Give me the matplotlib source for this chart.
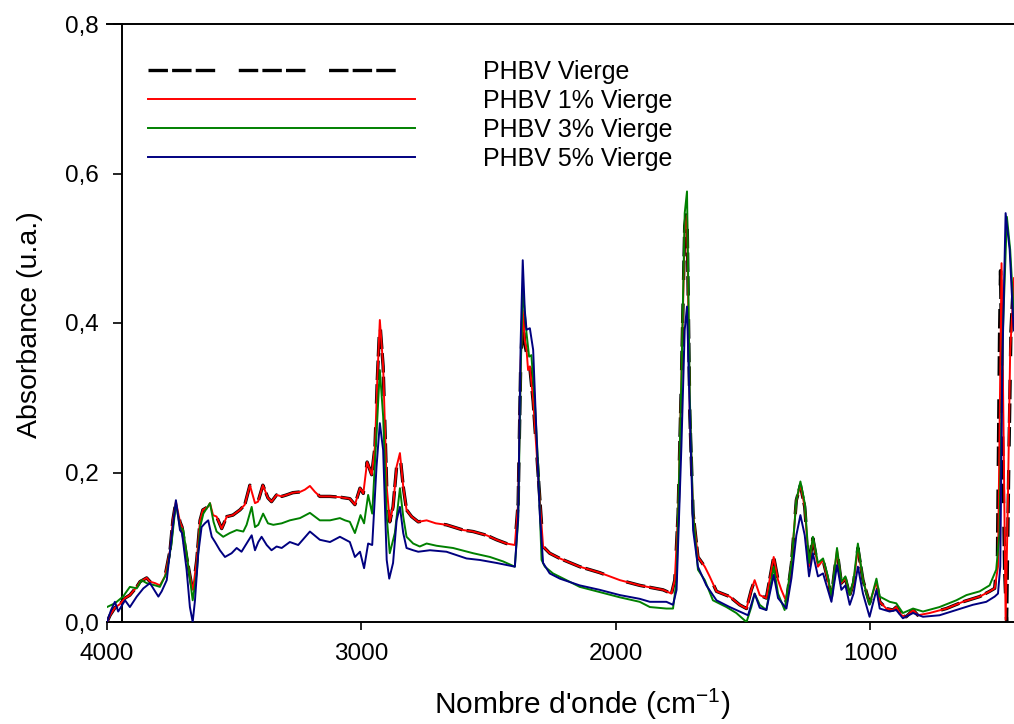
import matplotlib
matplotlib.use("Agg")
import matplotlib.pyplot as plt

plt.rcParams['font.family'] = ['Liberation Sans', 'DejaVu Sans']
plt.rcParams['lines.scale_dashes'] = False

# ---------------- data (wavenumber cm-1, absorbance) ----------------
wn_black = [4000, 3988, 3969, 3949, 3929, 3910, 3883, 3870, 3844, 3831, 3811, 3792, 3772, 3752, 3741, 3729,
            3713, 3705, 3687, 3667, 3662, 3647, 3634, 3623, 3603, 3595, 3583, 3569, 3549, 3529, 3505, 3477,
            3458, 3438, 3418, 3406, 3387, 3367, 3353, 3333, 3313, 3294, 3269, 3241, 3222, 3202, 3182, 3163,
            3123, 3084, 3045, 3025, 3005, 2992, 2977, 2959, 2946, 2937, 2927, 2914, 2900, 2888, 2875, 2861,
            2848, 2835, 2822, 2802, 2776, 2743, 2707, 2665, 2599, 2560, 2507, 2468, 2429, 2396, 2383, 2373,
            2365, 2357, 2350, 2344, 2337, 2324, 2311, 2298, 2285, 2259, 2219, 2141, 2062, 1983, 1905, 1813,
            1780, 1767, 1754, 1741, 1728, 1719, 1708, 1695, 1676, 1649, 1630, 1603, 1551, 1512, 1485, 1466,
            1453, 1433, 1407, 1378, 1361, 1348, 1328, 1308, 1289, 1273, 1256, 1239, 1224, 1204, 1184, 1165,
            1151, 1129, 1112, 1096, 1079, 1064, 1047, 1027, 1001, 974, 961, 935, 909, 896, 876, 857,
            830, 811, 765, 699, 634, 568, 529, 509, 498, 490, 486, 478, 470, 462, 454, 445, 436]
ab_black = [0.000, 0.009, 0.019, 0.024, 0.032, 0.036, 0.047, 0.054, 0.059, 0.054, 0.052, 0.049, 0.061, 0.096, 0.136, 0.161,
            0.134, 0.127, 0.087, 0.049, 0.043, 0.083, 0.136, 0.150, 0.154, 0.159, 0.143, 0.141, 0.125, 0.141, 0.143, 0.150,
            0.157, 0.183, 0.159, 0.161, 0.183, 0.166, 0.161, 0.170, 0.168, 0.170, 0.173, 0.174, 0.177, 0.182, 0.174, 0.168,
            0.168, 0.167, 0.165, 0.157, 0.179, 0.172, 0.214, 0.197, 0.235, 0.324, 0.402, 0.342, 0.181, 0.134, 0.154, 0.208,
            0.225, 0.181, 0.150, 0.141, 0.134, 0.136, 0.132, 0.130, 0.123, 0.121, 0.116, 0.110, 0.105, 0.103, 0.159, 0.345,
            0.408, 0.372, 0.360, 0.335, 0.340, 0.295, 0.230, 0.163, 0.101, 0.092, 0.085, 0.074, 0.066, 0.056, 0.049, 0.043,
            0.038, 0.056, 0.145, 0.324, 0.530, 0.552, 0.279, 0.145, 0.087, 0.074, 0.061, 0.041, 0.034, 0.023, 0.018, 0.043,
            0.056, 0.036, 0.032, 0.087, 0.056, 0.043, 0.027, 0.079, 0.163, 0.183, 0.154, 0.074, 0.112, 0.074, 0.083, 0.056,
            0.034, 0.096, 0.052, 0.058, 0.036, 0.052, 0.099, 0.056, 0.025, 0.054, 0.027, 0.018, 0.016, 0.020, 0.009, 0.007,
            0.016, 0.009, 0.012, 0.018, 0.027, 0.034, 0.041, 0.045, 0.090, 0.380, 0.470, 0.250, 0.070, 0.000, 0.200, 0.390, 0.450]

wn_red = [4000, 3988, 3969, 3949, 3929, 3910, 3883, 3870, 3844, 3831, 3811, 3792, 3772, 3752, 3741, 3729,
          3713, 3705, 3687, 3667, 3662, 3647, 3634, 3623, 3603, 3595, 3583, 3569, 3549, 3529, 3505, 3477,
          3458, 3438, 3418, 3406, 3387, 3367, 3353, 3333, 3313, 3294, 3269, 3241, 3222, 3202, 3182, 3163,
          3123, 3084, 3045, 3025, 3005, 2992, 2977, 2959, 2946, 2937, 2927, 2914, 2900, 2888, 2875, 2861,
          2848, 2835, 2822, 2802, 2776, 2743, 2707, 2665, 2599, 2560, 2507, 2468, 2429, 2396, 2383, 2373,
          2365, 2357, 2350, 2344, 2337, 2324, 2311, 2298, 2285, 2259, 2219, 2141, 2062, 1983, 1905, 1813,
          1780, 1767, 1754, 1741, 1728, 1719, 1708, 1695, 1676, 1649, 1630, 1603, 1551, 1512, 1485, 1466,
          1453, 1433, 1407, 1378, 1361, 1348, 1328, 1308, 1289, 1273, 1256, 1239, 1224, 1204, 1184, 1165,
          1151, 1129, 1112, 1096, 1079, 1064, 1047, 1027, 1001, 974, 961, 935, 909, 896, 876, 857,
          830, 811, 765, 699, 634, 568, 529, 509, 496, 487, 482, 474, 466, 457, 448, 437, 433]
ab_red = [0.000, 0.009, 0.019, 0.024, 0.032, 0.036, 0.047, 0.054, 0.059, 0.054, 0.052, 0.049, 0.061, 0.096, 0.136, 0.161,
          0.134, 0.127, 0.087, 0.049, 0.043, 0.083, 0.136, 0.150, 0.154, 0.159, 0.143, 0.141, 0.125, 0.141, 0.143, 0.150,
          0.157, 0.183, 0.159, 0.161, 0.183, 0.166, 0.161, 0.170, 0.168, 0.170, 0.173, 0.174, 0.177, 0.182, 0.174, 0.168,
          0.168, 0.167, 0.165, 0.157, 0.179, 0.172, 0.214, 0.197, 0.235, 0.324, 0.404, 0.342, 0.181, 0.134, 0.154, 0.208,
          0.226, 0.181, 0.150, 0.141, 0.134, 0.136, 0.132, 0.130, 0.123, 0.121, 0.116, 0.110, 0.105, 0.103, 0.159, 0.350,
          0.417, 0.377, 0.364, 0.337, 0.342, 0.297, 0.230, 0.163, 0.101, 0.092, 0.085, 0.074, 0.066, 0.056, 0.049, 0.043,
          0.038, 0.056, 0.145, 0.324, 0.524, 0.544, 0.279, 0.145, 0.087, 0.074, 0.061, 0.041, 0.034, 0.023, 0.018, 0.043,
          0.056, 0.036, 0.032, 0.087, 0.056, 0.043, 0.027, 0.079, 0.163, 0.183, 0.154, 0.074, 0.112, 0.074, 0.083, 0.056,
          0.034, 0.096, 0.052, 0.058, 0.036, 0.052, 0.099, 0.056, 0.025, 0.054, 0.027, 0.018, 0.016, 0.020, 0.009, 0.007,
          0.016, 0.009, 0.012, 0.018, 0.027, 0.034, 0.041, 0.045, 0.074, 0.342, 0.480, 0.253, 0.003, 0.163, 0.364, 0.431, 0.460]

wn_green = [4000, 3969, 3937, 3910, 3883, 3864, 3844, 3811, 3792, 3765, 3746, 3729, 3713, 3700, 3680, 3663,
            3647, 3634, 3621, 3595, 3581, 3569, 3543, 3517, 3490, 3464, 3451, 3431, 3418, 3405, 3386, 3367,
            3346, 3313, 3281, 3241, 3202, 3163, 3123, 3084, 3064, 3045, 3025, 3003, 2989, 2973, 2957, 2940,
            2927, 2914, 2900, 2888, 2868, 2848, 2835, 2822, 2796, 2770, 2743, 2704, 2639, 2560, 2494, 2442,
            2396, 2383, 2373, 2365, 2350, 2340, 2331, 2318, 2304, 2291, 2278, 2246, 2193, 2141, 2062, 1983,
            1905, 1865, 1800, 1774, 1760, 1741, 1728, 1719, 1708, 1695, 1676, 1649, 1617, 1564, 1525, 1485,
            1466, 1453, 1433, 1407, 1378, 1361, 1335, 1308, 1289, 1273, 1256, 1239, 1224, 1204, 1184, 1165,
            1151, 1129, 1112, 1096, 1079, 1064, 1047, 1027, 1001, 974, 961, 922, 896, 870, 830, 791,
            726, 660, 620, 568, 529, 503, 490, 477, 461, 448, 437, 433]
ab_green = [0.020, 0.025, 0.034, 0.047, 0.045, 0.056, 0.052, 0.049, 0.047, 0.066, 0.106, 0.159, 0.127, 0.123, 0.074, 0.029,
            0.066, 0.127, 0.145, 0.159, 0.134, 0.121, 0.114, 0.119, 0.123, 0.121, 0.130, 0.154, 0.127, 0.130, 0.145, 0.132,
            0.130, 0.132, 0.136, 0.139, 0.146, 0.136, 0.136, 0.139, 0.136, 0.134, 0.119, 0.143, 0.132, 0.170, 0.145, 0.252,
            0.337, 0.275, 0.141, 0.092, 0.119, 0.179, 0.141, 0.114, 0.105, 0.101, 0.105, 0.102, 0.099, 0.092, 0.087, 0.081,
            0.074, 0.136, 0.337, 0.445, 0.386, 0.355, 0.357, 0.297, 0.208, 0.083, 0.074, 0.065, 0.056, 0.047, 0.040, 0.033,
            0.027, 0.020, 0.018, 0.018, 0.056, 0.324, 0.547, 0.576, 0.301, 0.145, 0.070, 0.056, 0.029, 0.020, 0.012, 0.000,
            0.020, 0.038, 0.023, 0.016, 0.074, 0.038, 0.016, 0.079, 0.163, 0.188, 0.159, 0.079, 0.114, 0.079, 0.085, 0.061,
            0.034, 0.099, 0.054, 0.061, 0.036, 0.056, 0.105, 0.056, 0.023, 0.058, 0.034, 0.027, 0.025, 0.012, 0.018, 0.014,
            0.020, 0.029, 0.036, 0.041, 0.049, 0.070, 0.119, 0.386, 0.542, 0.498, 0.431, 0.410]

wn_blue = [4000, 3984, 3969, 3956, 3929, 3910, 3883, 3857, 3831, 3811, 3798, 3785, 3765, 3746, 3729, 3713,
           3705, 3687, 3674, 3663, 3654, 3641, 3628, 3615, 3602, 3588, 3575, 3556, 3536, 3510, 3490, 3471,
           3451, 3431, 3418, 3405, 3392, 3372, 3353, 3333, 3313, 3281, 3248, 3202, 3163, 3123, 3084, 3045,
           3025, 3005, 2989, 2973, 2957, 2940, 2927, 2914, 2900, 2890, 2875, 2861, 2848, 2835, 2822, 2796,
           2776, 2730, 2665, 2586, 2534, 2468, 2396, 2383, 2373, 2365, 2357, 2350, 2337, 2324, 2311, 2298,
           2285, 2259, 2219, 2141, 2062, 1983, 1905, 1865, 1800, 1774, 1760, 1741, 1728, 1719, 1708, 1695,
           1676, 1643, 1603, 1551, 1499, 1479, 1453, 1433, 1407, 1378, 1361, 1328, 1308, 1289, 1273, 1256,
           1239, 1224, 1204, 1184, 1165, 1151, 1129, 1112, 1096, 1079, 1064, 1047, 1027, 1001, 974, 961,
           922, 896, 870, 830, 791, 726, 660, 595, 542, 509, 496, 487, 479, 466, 450, 437, 433]
ab_blue = [0.000, 0.016, 0.027, 0.014, 0.029, 0.020, 0.034, 0.045, 0.052, 0.041, 0.034, 0.041, 0.056, 0.114, 0.163, 0.123,
           0.119, 0.070, 0.020, 0.000, 0.029, 0.092, 0.127, 0.132, 0.136, 0.114, 0.107, 0.096, 0.087, 0.092, 0.099, 0.094,
           0.105, 0.116, 0.096, 0.107, 0.114, 0.103, 0.096, 0.101, 0.099, 0.107, 0.103, 0.121, 0.110, 0.107, 0.114, 0.107,
           0.087, 0.094, 0.072, 0.105, 0.103, 0.208, 0.266, 0.230, 0.083, 0.058, 0.079, 0.136, 0.154, 0.119, 0.099, 0.096,
           0.094, 0.096, 0.094, 0.085, 0.083, 0.079, 0.074, 0.141, 0.377, 0.484, 0.417, 0.391, 0.393, 0.364, 0.252, 0.145,
           0.079, 0.065, 0.058, 0.049, 0.043, 0.036, 0.031, 0.027, 0.027, 0.023, 0.043, 0.235, 0.391, 0.422, 0.279, 0.123,
           0.074, 0.049, 0.029, 0.020, 0.012, 0.009, 0.038, 0.019, 0.016, 0.063, 0.032, 0.018, 0.059, 0.116, 0.143, 0.116,
           0.061, 0.092, 0.061, 0.065, 0.043, 0.027, 0.076, 0.043, 0.049, 0.023, 0.038, 0.074, 0.038, 0.007, 0.043, 0.018,
           0.014, 0.016, 0.005, 0.012, 0.007, 0.009, 0.016, 0.023, 0.027, 0.034, 0.038, 0.074, 0.342, 0.547, 0.498, 0.408, 0.390]

labels = ["PHBV Vierge", "PHBV 1% Vierge", "PHBV 3% Vierge", "PHBV 5% Vierge"]
x_ticks = [4000, 3000, 2000, 1000]
y_ticks = [0.0, 0.2, 0.4, 0.6, 0.8]
y_ticklabels = ["0,0", "0,2", "0,4", "0,6", "0,8"]

# ---------------- figure ----------------
fig = plt.figure(figsize=(10.14, 7.24), dpi=100)
ax = fig.add_axes([107 / 1014, 102 / 724, 907 / 1014, 598 / 724])

dash_pattern = [14, 3, 14, 3, 14, 17]
l0, = ax.plot(wn_black, ab_black, color='black', lw=2.4, label=labels[0], zorder=2)
l0.set_dashes(dash_pattern)
l1, = ax.plot(wn_red, ab_red, color='#ff0000', lw=1.4, label=labels[1], zorder=3)
l2, = ax.plot(wn_green, ab_green, color='#008000', lw=1.4, label=labels[2], zorder=4)
l3, = ax.plot(wn_blue, ab_blue, color='#000080', lw=1.4, label=labels[3], zorder=5)

ax.set_xlim(4000, 433)
ax.set_ylim(0, 0.8)

ax.spines['right'].set_visible(False)
ax.spines['left'].set_position(('data', 3941))
for s in ['left', 'top', 'bottom']:
    ax.spines[s].set_linewidth(1.4)

ax.set_xticks(x_ticks)
ax.set_xticklabels([str(t) for t in x_ticks])
ax.set_yticks(y_ticks)
ax.set_yticklabels(y_ticklabels)
ax.tick_params(axis='both', direction='out', width=1.2, labelsize=17.5)
ax.tick_params(axis='x', length=6, pad=9)
ax.tick_params(axis='y', length=6.5, pad=10)

ax.set_xlabel("Nombre d'onde (cm$^{\\mathregular{-1}}$)", fontsize=21.5)
ax.xaxis.set_label_coords(0.524, -0.108)
ax.set_ylabel("Absorbance (u.a.)", fontsize=20.5)
ax.yaxis.set_label_coords(-0.071, 0.497)

ax.legend(handles=[l0, l1, l2, l3], loc='upper left', bbox_to_anchor=(0.0452, 0.9405),
          frameon=False, fontsize=18, handlelength=10.68, handletextpad=2.72,
          labelspacing=0.205, borderpad=0, borderaxespad=0)

fig.savefig("out.png", dpi=100)
